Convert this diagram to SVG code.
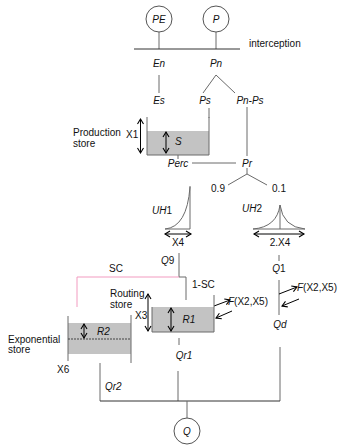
<svg xmlns="http://www.w3.org/2000/svg" width="338" height="445" viewBox="0 0 338 445">
<defs>
<marker id="ah" markerWidth="8" markerHeight="8" refX="6" refY="4" orient="auto-start-reverse" markerUnits="userSpaceOnUse">
<path d="M1,1 L6,4 L1,7" fill="none" stroke="#000" stroke-width="1.1"/>
</marker>
<style>
text{font-family:"Liberation Sans",Arial,sans-serif;font-size:10px;fill:#111}
.i{font-style:italic}
.m{text-anchor:middle}
.ln{stroke:#6a6a6a;stroke-width:1;fill:none}
.dk{stroke:#333;stroke-width:1;fill:none}
.ar{stroke:#000;stroke-width:1;fill:none;marker-start:url(#ah);marker-end:url(#ah)}
.a1{stroke:#000;stroke-width:1;fill:none;marker-end:url(#ah)}
.fill{fill:#c3c3c3}
.circ{fill:#fff;stroke:#555;stroke-width:1}
</style>
</defs>
<rect width="338" height="445" fill="#fff"/>

<g id="connectors">
<line class="ln" x1="159" y1="32" x2="159" y2="49"/>
<line class="ln" x1="216" y1="32" x2="216" y2="49"/>
<line class="dk" x1="134" y1="49" x2="240" y2="49"/>
<line class="ln" x1="159" y1="75" x2="159" y2="93"/>
<line class="ln" x1="216" y1="75" x2="203" y2="93"/>
<line class="ln" x1="216" y1="75" x2="235" y2="93"/>
<line class="ln" x1="209" y1="108" x2="209" y2="118"/>
<line class="ln" x1="247" y1="107" x2="247" y2="156"/>
<line class="ln" x1="178" y1="155" x2="178" y2="159"/>
<line class="ln" x1="192" y1="163" x2="236" y2="163"/>
<line class="ln" x1="247" y1="168" x2="247" y2="174"/>
<line class="ln" x1="247" y1="174" x2="228" y2="185"/>
<line class="ln" x1="247" y1="174" x2="267" y2="185"/>
<line class="ln" x1="179" y1="253" x2="179" y2="277"/>
<line x1="179" y1="277" x2="77" y2="277" stroke="#f29bc0" stroke-width="1"/>
<line x1="77" y1="277" x2="77" y2="307" stroke="#f29bc0" stroke-width="1"/>
<polyline class="ln" points="179,277 186,277 186,300"/>
<line class="ln" x1="279" y1="255" x2="279" y2="261"/>
<line class="ln" x1="279" y1="280" x2="279" y2="315"/>
<line class="ln" x1="179" y1="338" x2="179" y2="345"/>
<line class="ln" x1="178" y1="371" x2="178" y2="401"/>
<line class="ln" x1="100" y1="363" x2="100" y2="401"/>
<line class="ln" x1="280" y1="347" x2="280" y2="401"/>
<line class="dk" x1="100" y1="401" x2="280" y2="401"/>
<line class="ln" x1="187" y1="401" x2="187" y2="418"/>
<line class="a1" x1="214" y1="306" x2="230" y2="300"/>
<line class="a1" x1="232" y1="311" x2="216" y2="318" stroke-width="1.6"/>
<line class="a1" x1="279" y1="294" x2="297" y2="287"/>
<line class="a1" x1="299" y1="299" x2="282" y2="306"/>
</g>

<g id="PE"><circle class="circ" cx="159" cy="19" r="13"/><text class="i m" x="159" y="23">PE</text></g>
<g id="P"><circle class="circ" cx="216" cy="19" r="13"/><text class="i m" x="216" y="23">P</text></g>
<g id="interception"><text x="249" y="47">interception</text></g>
<g id="En"><text class="i m" x="159" y="67">En</text></g>
<g id="Pn"><text class="i m" x="216" y="67">Pn</text></g>
<g id="Es"><text class="i m" x="159" y="104">Es</text></g>
<g id="Ps"><text class="i m" x="205" y="104">Ps</text></g>
<g id="PnPs"><text class="i m" x="250" y="104">Pn-Ps</text></g>

<g id="production-store">
<rect class="fill" x="147" y="131" width="62" height="24"/>
<polyline class="ln" points="147,117 147,155 209,155 209,117"/>
<line class="ar" x1="140.5" y1="119" x2="140.5" y2="153"/>
<line class="ar" x1="166" y1="132" x2="166" y2="153"/>
<text class="i" x="175" y="145">S</text>
<text x="73" y="136">Production</text>
<text x="73" y="147">store</text>
<text x="126" y="138">X1</text>
</g>

<g id="Perc"><text class="i m" x="178" y="167">Perc</text></g>
<g id="Pr"><text class="i m" x="247" y="167">Pr</text></g>
<g id="split"><text class="m" x="218" y="192">0.9</text><text class="m" x="279" y="192">0.1</text></g>

<g id="UH1">
<path class="ln" d="M165,229 Q187,227 190,187"/>
<line class="ln" x1="190" y1="186" x2="190" y2="229"/>
<line class="ln" x1="165" y1="229" x2="190" y2="229"/>
<text x="152" y="214"><tspan class="i">UH</tspan>1</text>
<line class="ar" x1="165" y1="234" x2="191" y2="234"/>
<text class="m" x="178" y="246">X4</text>
</g>

<g id="UH2">
<path class="ln" d="M253,229 Q277,227 280,205 Q283,227 305,229"/>
<line class="ln" x1="280" y1="205" x2="280" y2="229"/>
<line class="ln" x1="253" y1="229" x2="305" y2="229"/>
<text x="242" y="212"><tspan class="i">UH</tspan>2</text>
<line class="ar" x1="254" y1="234" x2="304" y2="234"/>
<text class="m" x="280" y="246">2.X4</text>
</g>

<g id="Q9"><text x="161" y="264"><tspan class="i">Q</tspan>9</text></g>
<g id="SC"><text x="109" y="272">SC</text></g>
<g id="oneSC"><text x="192" y="288">1-SC</text></g>
<g id="Q1"><text class="m" x="279" y="272"><tspan class="i">Q</tspan>1</text></g>

<g id="routing-store">
<rect class="fill" x="152" y="307" width="62" height="25"/>
<polyline class="ln" points="152,307 152,332 214,332 214,295"/>
<line class="ar" x1="148" y1="294" x2="148" y2="331"/>
<line class="ar" x1="171" y1="308" x2="171" y2="331"/>
<text class="i m" x="189" y="323">R1</text>
<text x="110" y="297">Routing</text>
<text x="110" y="308">store</text>
<text x="135" y="319">X3</text>
<text x="228" y="305"><tspan class="i">F</tspan>(X2,X5)</text>
</g>

<g id="Qd"><text class="i m" x="280" y="328">Qd</text><text x="297" y="291"><tspan class="i">F</tspan>(X2,X5)</text></g>

<g id="exponential-store">
<rect class="fill" x="68" y="323" width="63" height="31"/>
<line class="ln" x1="68" y1="316" x2="68" y2="361"/>
<line class="ln" x1="131" y1="315" x2="131" y2="363"/>
<line x1="68" y1="339" x2="131" y2="339" stroke="#444" stroke-width="1.2" stroke-dasharray="2,1"/>
<line class="ar" x1="84" y1="324" x2="84" y2="338"/>
<text class="i" x="97" y="335">R2</text>
<text x="8" y="343">Exponential</text>
<text x="8" y="353">store</text>
<text x="57" y="373">X6</text>
</g>

<g id="Qr1"><text class="i m" x="184" y="359">Qr1</text></g>
<g id="Qr2"><text class="i" x="105" y="390">Qr2</text></g>
<g id="Q"><circle class="circ" cx="187" cy="431" r="13"/><text class="i m" x="187" y="435">Q</text></g>
</svg>
